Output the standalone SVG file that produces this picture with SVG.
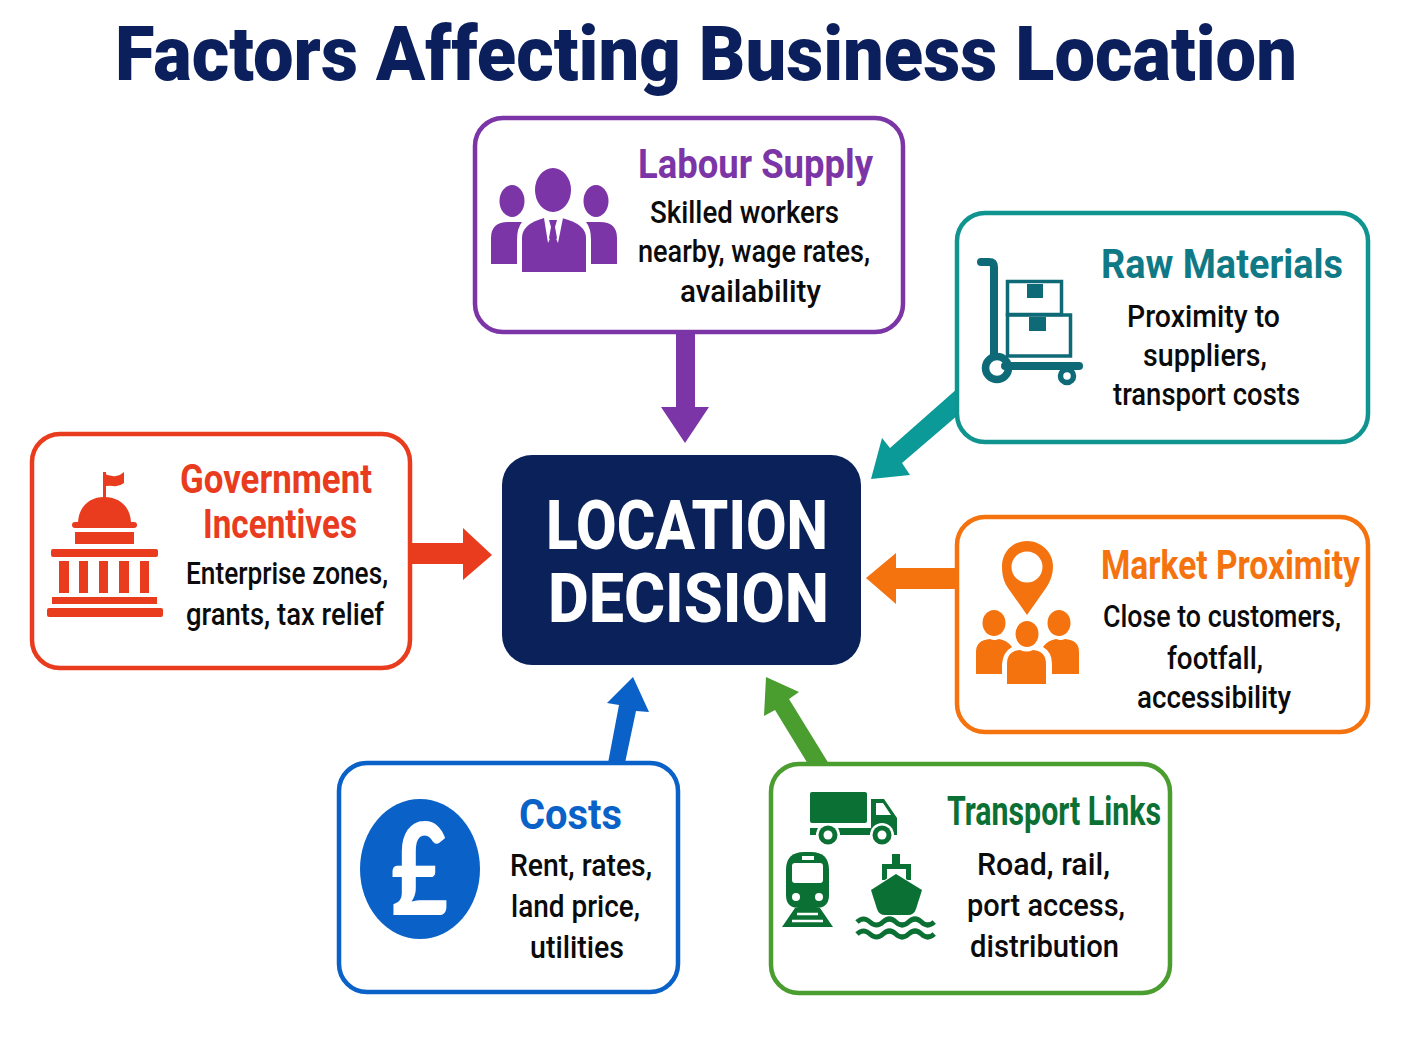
<svg xmlns="http://www.w3.org/2000/svg" width="1408" height="1056" viewBox="0 0 1408 1056">
<style>
text{font-family:Roboto,"Liberation Sans",sans-serif}
.h{font-weight:700;font-size:41px}
.b{font-weight:500;font-size:32px;fill:#0b0b0b}
.box{fill:#fff;stroke-width:4.500}
.w{fill:#fff}
.purple{fill:#7b35a6}.teal{fill:#0f7a85}.orange{fill:#f5730f}.green{fill:#0b7033}.blue{fill:#0a62c8}.red{fill:#e93c1e}
</style>
<rect width="1408" height="1056" fill="#fff"/>
<text x="115" y="80" font-size="76" font-weight="900" fill="#0a1f5c" textLength="1182" lengthAdjust="spacingAndGlyphs">Factors Affecting Business Location</text>
<g id="connectors">
<polygon class="purple" points="676,330 695,330 695,407 709,407 685,443 661,407 676,407"/>
<polygon fill="#0c9a98" points="958,388 958,415 902,463 910,475 871,479 882,438 890,448"/>
<polygon class="orange" points="959,568 959,589 896,589 896,604 866,578 896,553 896,568"/>
<polygon fill="#4a9d2f" points="808,764 829,764 789,699 799,692 766,677 764,716 775,710"/>
<polygon class="blue" points="608,763 625,763 636,711 649,712 633,677 607,703 619,705"/>
<polygon class="red" points="408,543 463,543 463,528 492,555 463,580 463,564 408,564"/>
</g>
<g id="center">
<rect x="502" y="455" width="359" height="210" rx="30" fill="#0a2259"/>
<text x="546" y="549" font-size="68" font-weight="800" fill="#fff" textLength="282" lengthAdjust="spacingAndGlyphs">LOCATION</text>
<text x="548" y="622" font-size="68" font-weight="800" fill="#fff" textLength="281" lengthAdjust="spacingAndGlyphs">DECISION</text>
</g>
<g id="labour">
<rect class="box" x="475" y="118" width="428" height="214" rx="28" stroke="#7b35a6"/>
<g class="purple">
<ellipse cx="553" cy="190" rx="18" ry="22"/>
<ellipse cx="512" cy="201" rx="12.500" ry="16"/>
<ellipse cx="596" cy="201" rx="12.500" ry="16"/>
<path d="M491 264V238Q491 222 508 222L522 222Q517 228 517 240V264Z"/>
<path d="M617 264V238Q617 222 600 222L586 222Q591 228 591 240V264Z"/>
<path d="M522 272V238Q522 224 544 218H562Q586 224 586 238V272Z"/>
</g>
<polygon class="w" points="544,218 563,218 558,243 553,232 548,243"/>
<polygon class="purple" points="549,220 557,220 555,227 557,238 553,244 549,238 551,227"/>
<text class="h purple" x="638" y="178" textLength="235" lengthAdjust="spacingAndGlyphs">Labour Supply</text>
<text class="b" x="650" y="223" textLength="189" lengthAdjust="spacingAndGlyphs">Skilled workers</text>
<text class="b" x="638" y="262" textLength="232" lengthAdjust="spacingAndGlyphs">nearby, wage rates,</text>
<text class="b" x="680" y="302" textLength="141" lengthAdjust="spacingAndGlyphs">availability</text>
</g>
<g id="raw">
<rect class="box" x="957" y="213" width="411" height="229" rx="28" stroke="#0f9490"/>
<g fill="none" stroke="#0e6a76">
<path d="M981 262H989Q994 262 994 267V355" stroke-width="8" stroke-linecap="round"/>
<path d="M1005 366H1079" stroke-width="8" stroke-linecap="round"/>
<circle cx="997" cy="368" r="11.500" stroke-width="7.500"/>
<circle cx="1067" cy="376" r="6.500" stroke-width="5.500"/>
<rect x="1007.500" y="281.500" width="54" height="33" stroke-width="3.500"/>
<rect x="1007.500" y="315" width="63" height="41" stroke-width="3.500"/>
</g>
<rect x="1027" y="284" width="16" height="14" fill="#0e6a76"/>
<rect x="1029" y="317" width="17" height="14" fill="#0e6a76"/>
<text class="h teal" x="1101" y="278" textLength="242" lengthAdjust="spacingAndGlyphs">Raw Materials</text>
<text class="b" x="1127" y="327" textLength="153" lengthAdjust="spacingAndGlyphs">Proximity to</text>
<text class="b" x="1143" y="366" textLength="124" lengthAdjust="spacingAndGlyphs">suppliers,</text>
<text class="b" x="1113" y="405" textLength="187" lengthAdjust="spacingAndGlyphs">transport costs</text>
</g>
<g id="market">
<rect class="box" x="957" y="517" width="411" height="215" rx="28" stroke="#f5730f"/>
<g class="orange">
<path fill-rule="evenodd" d="M1027 615L1008 588C1003 581 1002 573 1002 566C1002 552 1013 541 1027 541C1041 541 1053 552 1053 566C1053 573 1051 581 1046 588ZM1027 551.500A15.500 15.500 0 1 0 1027 582.500A15.500 15.500 0 1 0 1027 551.500Z"/>
<ellipse cx="994" cy="623" rx="11.500" ry="13"/>
<ellipse cx="1059" cy="623" rx="11.500" ry="13"/>
<ellipse cx="1027" cy="634" rx="11.500" ry="13"/>
<path d="M976 674V652Q976 640 990 639Q994 641 999 639Q1007 640 1012 647Q1003 652 1002 664V674Z"/>
<path d="M1079 674V652Q1079 640 1065 639Q1061 641 1056 639Q1048 640 1043 647Q1052 652 1052 664V674Z"/>
<path d="M1007 684V664Q1007 651 1020 650Q1027 653 1033 650Q1046 651 1046 664V684Z"/>
</g>
<text class="h orange" transform="translate(1101 579) scale(.818 1)">Market Proximity</text>
<text class="b" x="1103" y="627" textLength="238" lengthAdjust="spacingAndGlyphs">Close to customers,</text>
<text class="b" x="1167" y="669" textLength="96" lengthAdjust="spacingAndGlyphs">footfall,</text>
<text class="b" x="1137" y="708" textLength="154" lengthAdjust="spacingAndGlyphs">accessibility</text>
</g>
<g id="transport">
<rect class="box" x="771" y="764" width="399" height="229" rx="28" stroke="#4a9d2f"/>
<g class="green">
<rect x="810" y="792" width="57" height="31" rx="2"/>
<path fill-rule="evenodd" d="M871 799H884L897 818V835H871ZM876 803V815H891L883 803Z"/>
<rect x="810" y="828" width="62" height="7"/>
</g>
<circle class="w" cx="828" cy="835" r="12"/>
<circle class="w" cx="882" cy="835" r="12"/>
<circle class="green" cx="828" cy="835" r="9.500"/>
<circle class="green" cx="882" cy="835" r="9.500"/>
<circle class="w" cx="828" cy="835" r="4.500"/>
<circle class="w" cx="882" cy="835" r="4.500"/>
<g class="green">
<path d="M786 870Q786 852 804 852H811Q829 852 829 870V895Q829 908 816 908H799Q786 908 786 895Z"/>
<path d="M795 908L782 927H833L820 908Z"/>
<rect x="892" y="854" width="8" height="12"/>
<rect x="882" y="864" width="29" height="5"/>
<path d="M882 864H887V880H882ZM906 864H911V880H906Z"/>
</g>
<path class="green" d="M896 874L922 890L916 909Q914 915 908 915H885Q879 915 877 909L871 890Z" stroke="#fff" stroke-width="2" paint-order="stroke"/>
<rect class="w" x="792" y="863" width="31" height="20" rx="3"/>
<rect class="w" x="802" y="856" width="12" height="4"/>
<circle class="w" cx="796" cy="897" r="4"/>
<circle class="w" cx="819" cy="897" r="4"/>
<path d="M797 914H818M792 921H823" stroke="#fff" stroke-width="2.500"/>
<path d="M857 922q6.500 -6 13 0t13 0t12.800 0t12.800 0t12.800 0t12.800 0M857 934q6.500 -6 13 0t13 0t12.800 0t12.800 0t12.800 0t12.800 0" fill="none" stroke="#0b7033" stroke-width="5"/>
<text class="h green" x="947" y="825" textLength="214" lengthAdjust="spacingAndGlyphs">Transport Links</text>
<text class="b" x="977" y="875" textLength="133" lengthAdjust="spacingAndGlyphs">Road, rail,</text>
<text class="b" x="967" y="916" textLength="158" lengthAdjust="spacingAndGlyphs">port access,</text>
<text class="b" x="970" y="957" textLength="149" lengthAdjust="spacingAndGlyphs">distribution</text>
</g>
<g id="costs">
<rect class="box" x="339" y="763" width="339" height="229" rx="28" stroke="#0a62c8"/>
<ellipse class="blue" cx="420" cy="869" rx="60" ry="70"/>
<text x="391" y="915" font-size="128" font-weight="900" fill="#fff" style="font-family:Lato,sans-serif" textLength="57" lengthAdjust="spacingAndGlyphs">£</text>
<text class="h blue" x="519" y="829" style="font-size:43px" textLength="103" lengthAdjust="spacingAndGlyphs">Costs</text>
<text class="b" x="510" y="876" textLength="142" lengthAdjust="spacingAndGlyphs">Rent, rates,</text>
<text class="b" x="511" y="917" textLength="129" lengthAdjust="spacingAndGlyphs">land price,</text>
<text class="b" x="530" y="958" textLength="94" lengthAdjust="spacingAndGlyphs">utilities</text>
</g>
<g id="government">
<rect class="box" x="32" y="434" width="378" height="234" rx="28" stroke="#e93c1e"/>
<g class="red">
<rect x="103" y="472" width="3" height="27"/>
<path d="M103 473Q110 477 116 476Q121 475 124 472V483Q119 487 113 486Q108 485 103 487Z"/>
<path d="M78 522C79 506 90 497 104 497C119 497 130 506 131 522Z"/>
<rect x="72" y="522" width="65" height="6" rx="3"/>
<rect x="75" y="532" width="59" height="12"/>
<rect x="51" y="549" width="107" height="8" rx="2"/>
<rect x="59" y="561" width="10" height="32"/>
<rect x="79" y="561" width="9" height="32"/>
<rect x="99" y="561" width="9" height="32"/>
<rect x="119" y="561" width="10" height="32"/>
<rect x="140" y="561" width="9" height="32"/>
<rect x="52" y="597" width="105" height="7"/>
<rect x="47" y="608" width="116" height="9" rx="2"/>
</g>
<text class="h red" x="180" y="493" textLength="192" lengthAdjust="spacingAndGlyphs">Government</text>
<text class="h red" x="203" y="538" textLength="154" lengthAdjust="spacingAndGlyphs">Incentives</text>
<text class="b" x="186" y="584" textLength="202" lengthAdjust="spacingAndGlyphs">Enterprise zones,</text>
<text class="b" x="186" y="625" textLength="198" lengthAdjust="spacingAndGlyphs">grants, tax relief</text>
</g>
</svg>
